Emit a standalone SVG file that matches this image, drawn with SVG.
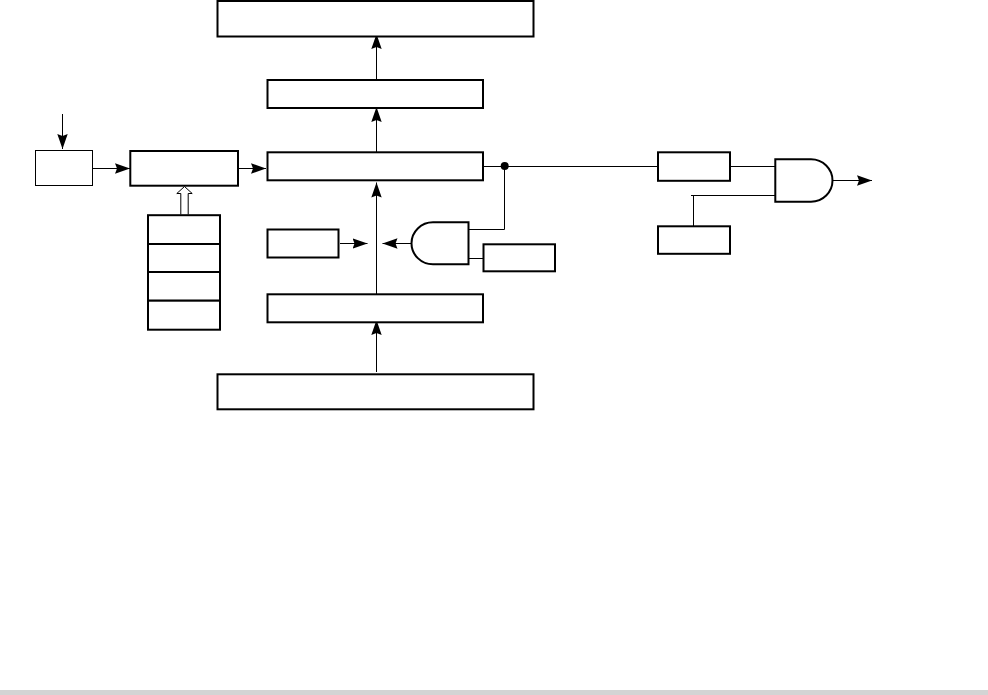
<svg xmlns="http://www.w3.org/2000/svg" width="988" height="695" viewBox="0 0 988 695">
<style>
.b{fill:#fff;stroke:#000;stroke-width:2}
.t{fill:#fff;stroke:#000;stroke-width:1}
.g{fill:#fff;stroke:#000;stroke-width:2}
.c{fill:none;stroke:#000;stroke-width:1}
</style>
<defs>
<marker id="a" markerUnits="userSpaceOnUse" markerWidth="16" markerHeight="12" refX="15" refY="6" orient="auto"><path d="M0 .8 L15 6 L0 11.200 L2 6 Z" fill="#000"/></marker>
</defs>
<rect width="988" height="695" fill="#fff"/>
<rect x="0" y="690" width="988" height="5" fill="#d4d4d4"/>
<g id="connectors">
<path class="c" d="M62.500 114V149" marker-end="url(#a)"/>
<path class="c" d="M93 168.500H130" marker-end="url(#a)"/>
<path class="c" d="M239 168.500H266" marker-end="url(#a)"/>
<path class="c" d="M376.500 79V34" marker-end="url(#a)"/>
<path class="c" d="M376.500 152V107" marker-end="url(#a)"/>
<path class="c" d="M376.500 294V182.500" marker-end="url(#a)"/>
<path class="c" d="M376.500 372V320" marker-end="url(#a)"/>
<path class="c" d="M340 243.500H367.500" marker-end="url(#a)"/>
<path class="c" d="M411 243.500H382.500" marker-end="url(#a)"/>
<path class="c" d="M484 166.500H658"/>
<path class="c" d="M504.500 166.500V229.500H469"/>
<path class="c" d="M469 258.500H483"/>
<path class="c" d="M731 166.500H775"/>
<path class="c" d="M691 195.500H775M693.500 195.500V226"/>
<path class="c" d="M833 180.500H872" marker-end="url(#a)"/>
<circle cx="504.700" cy="166" r="4" fill="#000"/>
<path d="M180.800 214.500V193.500H176.800L184.500 186.500L192.200 193.500H188.200V214.500" fill="#fff" stroke="#000" stroke-width="1"/>
</g>
<g id="n1"><rect class="b" x="217.500" y="1" width="316" height="35.500"/></g>
<g id="n2"><rect class="b" x="267.500" y="80" width="215.500" height="28"/></g>
<g id="n3"><rect class="b" x="267.500" y="152.300" width="215.500" height="28"/></g>
<g id="n4"><rect class="t" x="35.500" y="150.500" width="57" height="35"/></g>
<g id="n5"><rect class="b" x="130.300" y="151" width="107.700" height="34.700"/></g>
<g id="n6"><rect class="b" x="148" y="215.200" width="72" height="28.800"/></g>
<g id="n7"><rect class="b" x="148" y="244" width="72" height="28"/></g>
<g id="n8"><rect class="b" x="148" y="272" width="72" height="28.700"/></g>
<g id="n9"><rect class="b" x="148" y="300.700" width="72" height="29"/></g>
<g id="n10"><rect class="b" x="267.500" y="229.500" width="71" height="28"/></g>
<g id="n11"><path class="g" d="M468.500 222.300V264.300H433A21.500 21 0 0 1 433 222.300Z"/></g>
<g id="n12"><rect class="b" x="483.500" y="244.300" width="71.500" height="27"/></g>
<g id="n13"><rect class="b" x="267.500" y="294.300" width="215.500" height="28"/></g>
<g id="n14"><rect class="b" x="217.500" y="374.300" width="316" height="35"/></g>
<g id="n15"><rect class="b" x="658" y="152.300" width="72" height="28.500"/></g>
<g id="n16"><rect class="b" x="658" y="226.300" width="72" height="27.500"/></g>
<g id="n17"><path class="g" d="M775.300 159.300V201.700H811A21.500 21.200 0 0 0 811 159.300Z"/></g>
</svg>
